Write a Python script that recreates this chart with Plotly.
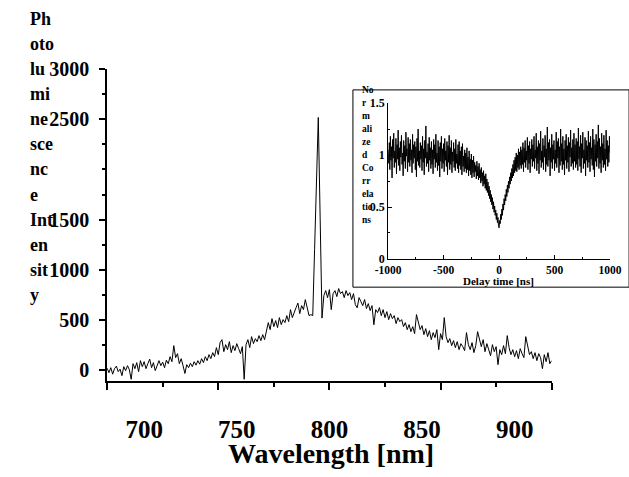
import plotly.graph_objects as go

# ---------------- data ----------------
wavelength = list(range(680, 921))  # nm, 1 nm step
intensity = [
    15, -30, 20, -45, 10, 35, -20, 5, -60, 30,          # 680-689
    -10, 40, 0, -96, 60, 10, 70, -20, 90, 30,           # 690-699
    80, 10, 60, 105, 20, 70, -10, 50, 90, 40,           # 700-709
    75, 20, 95, 60, 130, 80, 240, 120, 160, 60,         # 710-719
    110, 40, -38, 50, 20, 65, 30, 80, 45, 90,           # 720-729
    55, 110, 70, 130, 90, 150, 110, 170, 130, 220,      # 730-739
    150, 270, 300, 180, 250, 200, 280, 170, 240, 190,   # 740-749
    260, 210, 160, 230, -96, 250, 300, 220, 330, 260,   # 750-759
    310, 280, 340, 290, 350, 300, 380, 470, 400, 510,   # 760-769
    430, 490, 420, 520, 450, 500, 470, 540, 480, 600,   # 770-779
    520, 580, 620, 665, 560, 640, 600, 700, 620, 540,   # 780-789
    550, 540, 1200, 1860, 2520, 1520, 515, 740, 790, 720,  # 790-799
    800, 600, 760, 790, 730, 810, 760, 780, 720, 790,   # 800-809
    740, 770, 700, 760, 650, 618, 720, 680, 640, 700,   # 810-819
    610, 660, 590, 640, 449, 600, 570, 620, 540, 600,   # 820-829
    520, 580, 500, 560, 510, 540, 460, 520, 480, 500,   # 830-839
    430, 470, 400, 450, 380, 430, 360, 550, 480, 400,   # 840-849
    440, 350, 410, 330, 390, 300, 370, 320, 400, 200,   # 850-859
    360, 300, 520, 330, 270, 310, 240, 290, 220, 280,   # 860-869
    200, 260, 230, 190, 370, 250, 200, 270, 170, 240,   # 870-879
    380, 290, 230, 300, 180, 260, 200, 140, 250, 180,   # 880-889
    230, 50, 200, 150, 240, 160, 340, 220, 150, 200,    # 890-899
    130, 190, 110, 210, 160, 120, 330, 240, 150, 180,   # 900-909
    110, 170, 90, 160, 120, 10, 150, 80, 170, 60,       # 910-919
    90,                                                 # 920
]

delay = list(range(-1000, 1001, 5))  # ns
correlation = [
    1.05,0.92,1.12,0.86,1.18,0.95,1.08,0.78,1.15,0.97,1.21,0.88,1.04,0.93,1.16,0.82,1.10,0.96,1.24,0.90,
    1.07,0.85,1.13,0.98,1.19,0.91,1.02,0.80,1.14,0.94,1.09,0.87,1.22,0.99,1.06,0.84,1.17,0.93,1.11,0.89,
    1.15,0.95,1.05,0.83,1.20,0.92,1.10,0.97,1.13,0.86,1.08,0.79,1.16,0.94,1.25,0.90,1.04,0.88,1.12,0.96,
    1.09,0.85,1.18,0.93,1.06,0.81,1.14,0.97,1.28,0.89,1.03,0.92,1.11,0.84,1.17,0.95,1.07,0.87,1.13,0.91,
    1.05,0.82,1.15,0.96,1.10,0.88,1.20,0.93,1.02,0.85,1.14,0.90,1.08,0.79,1.12,0.94,1.18,0.87,1.06,0.92,
    1.11,0.84,1.16,0.95,1.04,0.89,1.13,0.81,1.09,0.93,1.19,0.86,1.07,0.91,1.14,0.83,1.03,0.94,1.12,0.88,
    1.06,0.85,1.15,0.92,1.01,0.87,1.10,0.83,1.13,0.90,1.04,0.86,1.08,0.81,1.11,0.89,0.99,0.84,1.05,0.87,
    1.02,0.83,1.07,0.86,0.98,0.80,1.04,0.85,0.96,0.81,1.01,0.78,0.95,0.83,0.99,0.79,0.93,0.84,0.90,0.77,
    0.94,0.80,0.89,0.76,0.92,0.78,0.86,0.73,0.88,0.75,0.83,0.70,0.85,0.72,0.80,0.68,0.82,0.66,0.77,0.64,
    0.74,0.61,0.70,0.58,0.66,0.55,0.62,0.52,0.59,0.48,0.55,0.45,0.51,0.42,0.47,0.38,0.44,0.35,0.40,0.32,
    0.30,0.37,0.34,0.43,0.38,0.48,0.42,0.53,0.47,0.58,0.52,0.62,0.56,0.67,0.60,0.71,0.64,0.75,0.68,0.79,
    0.72,0.83,0.75,0.87,0.78,0.91,0.80,0.95,0.83,0.98,0.85,1.02,0.84,1.00,0.88,1.06,0.86,1.03,0.90,1.08,
    0.87,1.05,0.91,1.12,0.84,1.07,0.93,1.14,0.88,1.04,0.95,1.17,0.86,1.09,0.92,1.13,0.83,1.06,0.96,1.15,
    0.89,1.10,0.94,1.18,0.87,1.05,0.97,1.21,0.85,1.08,0.92,1.14,0.82,1.11,0.95,1.23,0.88,1.04,0.93,1.16,
    0.86,1.09,0.98,1.19,0.84,1.06,0.91,1.27,0.89,1.12,0.95,1.15,0.80,1.07,0.93,1.20,0.87,1.10,0.96,1.14,
    0.85,1.05,0.92,1.22,0.88,1.13,0.97,1.16,0.83,1.08,0.90,1.25,0.94,1.11,0.86,1.18,0.91,1.06,0.81,1.14,
    0.95,1.20,0.87,1.09,0.93,1.17,0.84,1.12,0.98,1.24,0.89,1.07,0.92,1.15,0.86,1.21,0.94,1.10,0.88,1.16,
    0.91,1.13,0.85,1.26,0.96,1.08,0.89,1.19,0.83,1.11,0.97,1.22,0.87,1.05,0.92,1.17,0.80,1.14,0.95,1.09,
    0.88,1.23,0.93,1.12,0.84,1.18,0.96,1.07,0.90,1.25,0.86,1.15,0.79,1.10,0.94,1.20,0.89,1.13,0.97,1.29,
    0.87,1.16,0.92,1.08,0.83,1.21,0.95,1.11,0.88,1.19,0.91,1.06,0.85,1.24,0.96,1.14,0.89,1.09,0.93,1.18,
    1.02,
]

x_major = [680, 740, 800, 860, 920]
x_minor = [710, 770, 830, 890]
x_labels = [700, 750, 800, 850, 900]
y_major = [0, 500, 1000, 1500, 2500, 3000]
y_minor = [250, 750, 1250, 1750, 2000, 2250, 2750]
ytitle_lines = ["Ph", "oto", "lu", "mi", "ne", "sce", "nc", "e", "Int", "en", "sit", "y"]

ins_x_major = [-1000, -500, 0, 500, 1000]
ins_x_minor = [-750, -250, 250, 750]
ins_y_major = [0, 0.5, 1, 1.5]
ins_y_text = ["0", "0.5", "1", "1.5"]
ins_y_minor = [0.25, 0.75, 1.25]
ins_title_lines = ["No", "r", "m", "ali", "ze", "d", "Co", "rr", "ela", "tio", "ns"]

# ---------------- layout geometry ----------------
W, H = 629, 477
FONT = "Liberation Serif, Times New Roman, serif"

def px(x):
    return x / W

def py(y):
    return 1 - y / H

main_left, main_right, main_top, main_bottom = 98, 561, 60.7, 385
y_range = [-118, 3000]
ins_left, ins_right, ins_top, ins_bottom = 390.7, 621.7, 95.7, 257.7
ins_y_range = [0, 1.5]

fig = go.Figure()
fig.add_trace(go.Scatter(x=wavelength, y=intensity, mode="lines",
                         line=dict(color="black", width=1),
                         xaxis="x", yaxis="y", showlegend=False, hoverinfo="skip"))
# invisible copy so the label axis (x3) is instantiated
fig.add_trace(go.Scatter(x=wavelength, y=intensity, mode="lines",
                         line=dict(color="black", width=1), opacity=0,
                         xaxis="x3", yaxis="y", showlegend=False, hoverinfo="skip"))
fig.add_trace(go.Scatter(x=delay, y=correlation, mode="lines",
                         line=dict(color="black", width=1),
                         xaxis="x2", yaxis="y2", showlegend=False, hoverinfo="skip"))

bold = dict(family=FONT, color="black", weight="bold")

annotations = []
ph = main_bottom - main_top
for i, t in enumerate(ytitle_lines):
    v = 3500 - 250 * i
    ypix = main_top + (y_range[1] - v) / (y_range[1] - y_range[0]) * ph
    annotations.append(dict(text=t, xref="paper", yref="paper", x=px(16), y=py(ypix),
                            xanchor="left", yanchor="middle", showarrow=False,
                            font=dict(size=18, **bold)))
iph = ins_bottom - ins_top
for i, t in enumerate(ins_title_lines):
    v = 1.625 - 0.125 * i
    ypix = ins_top + (ins_y_range[1] - v) / (ins_y_range[1] - ins_y_range[0]) * iph
    annotations.append(dict(text=t, xref="paper", yref="paper", x=px(361), y=py(ypix),
                            xanchor="left", yanchor="middle", showarrow=False,
                            font=dict(size=9.5, **bold)))
annotations.append(dict(text="Wavelength [nm]", xref="paper", yref="paper",
                        x=px(331), y=py(460), xanchor="center", yanchor="middle",
                        showarrow=False, font=dict(size=28, **bold)))
annotations.append(dict(text="Delay time [ns]", xref="paper", yref="paper",
                        x=px(506), y=py(281), xanchor="center", yanchor="middle",
                        showarrow=False, font=dict(size=11, **bold)))

fig.update_layout(
    width=W, height=H,
    margin=dict(l=0, r=0, t=0, b=0),
    paper_bgcolor="white", plot_bgcolor="rgba(0,0,0,0)",
    font=dict(family=FONT, color="black"),
    showlegend=False,
    xaxis=dict(domain=[px(main_left), px(main_right)], range=[680, 920], anchor="y",
               showline=True, linecolor="black", linewidth=1.5,
               ticks="outside", ticklen=7, tickwidth=1.5, tickcolor="black",
               tickmode="array", tickvals=x_major, showticklabels=False,
               minor=dict(tickmode="array", tickvals=x_minor, ticks="outside",
                          ticklen=4, tickwidth=1.5, tickcolor="black", showgrid=False),
               showgrid=False, zeroline=False),
    xaxis3=dict(overlaying="x", anchor="y", side="bottom", range=[680, 920],
                showline=False, ticks="", tickmode="array", tickvals=x_labels,
                ticktext=[str(v) for v in x_labels],
                tickfont=dict(size=25, **bold), ticklabelstandoff=31,
                ticklabeloverflow="allow",
                showgrid=False, zeroline=False),
    yaxis=dict(domain=[py(main_bottom), py(main_top)], range=y_range, anchor="x",
               showline=True, linecolor="black", linewidth=1.5,
               ticks="outside", ticklen=6, tickwidth=1.5, tickcolor="black",
               tickmode="array", tickvals=y_major, ticktext=[str(v) for v in y_major],
               tickfont=dict(size=20, **bold), ticklabelstandoff=6,
               minor=dict(tickmode="array", tickvals=y_minor, ticks="outside",
                          ticklen=3, tickwidth=1.5, tickcolor="black", showgrid=False),
               showgrid=False, zeroline=False),
    xaxis2=dict(domain=[px(ins_left), px(ins_right)], range=[-1000, 1000], anchor="y2",
                showline=True, linecolor="black", linewidth=1,
                ticks="inside", ticklen=4, tickwidth=1, tickcolor="black",
                tickmode="array", tickvals=ins_x_major, ticktext=[str(v) for v in ins_x_major],
                tickfont=dict(size=11.5, **bold), ticklabeloverflow="allow",
                minor=dict(tickmode="array", tickvals=ins_x_minor, ticks="inside",
                           ticklen=2, tickwidth=1, tickcolor="black", showgrid=False),
                showgrid=False, zeroline=False),
    yaxis2=dict(domain=[py(ins_bottom), py(ins_top)], range=ins_y_range, anchor="x2",
                showline=True, linecolor="black", linewidth=1,
                ticks="inside", ticklen=4, tickwidth=1, tickcolor="black",
                tickmode="array", tickvals=ins_y_major, ticktext=ins_y_text,
                tickfont=dict(size=12, **bold),
                minor=dict(tickmode="array", tickvals=ins_y_minor, ticks="inside",
                           ticklen=2, tickwidth=1, tickcolor="black", showgrid=False),
                showgrid=False, zeroline=False),
    shapes=[dict(type="rect", xref="paper", yref="paper",
                 x0=px(354), x1=1.02, y0=py(287), y1=py(82),
                 line=dict(color="black", width=1), fillcolor="rgba(0,0,0,0)")],
    annotations=annotations,
)

fig.write_html("out.html")
